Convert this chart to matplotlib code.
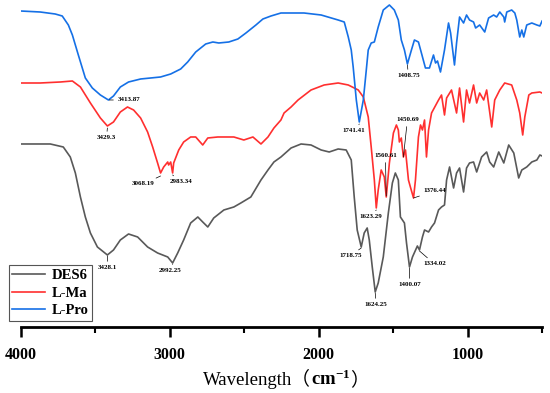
import numpy as np
import matplotlib
matplotlib.use('Agg')
import matplotlib.pyplot as plt
from matplotlib.ticker import MultipleLocator

plt.rcParams['font.family'] = ['Liberation Serif', 'Noto Sans CJK SC']
plt.rcParams['mathtext.fontset'] = 'custom'
plt.rcParams['mathtext.rm'] = 'Liberation Serif'
plt.rcParams['mathtext.bf'] = 'Liberation Serif:bold'

# FTIR spectra (wavenumber, cm-1) and offset transmittance (a.u.)
pro_wn = [4000, 3869, 3768, 3721, 3680, 3653, 3613, 3566, 3519, 3465, 3411, 3377, 3331, 3276,
          3195, 3128, 3061, 2993, 2926, 2879, 2825, 2758, 2710, 2670, 2603, 2542, 2488, 2421,
          2374, 2320, 2253, 2098, 1983, 1869, 1828, 1801, 1781, 1768, 1747, 1727, 1700, 1680,
          1667, 1647, 1626, 1600, 1566, 1525, 1492, 1465, 1445, 1424, 1404, 1377, 1357, 1330,
          1310, 1283, 1256, 1229, 1215, 1202, 1182, 1155, 1128, 1114, 1088, 1074, 1054, 1027,
          1007, 987, 960, 946, 919, 885, 859, 825, 805, 784, 757, 751, 737, 704, 683, 670,
          650, 636, 623, 603, 569, 535, 515, 500]
pro_t = [316, 315, 313, 311, 302, 292, 272, 249, 239, 232, 227, 231, 240, 245,
         248, 249, 250, 253, 258, 265, 275, 283, 285, 284, 285, 288, 294, 302,
         308, 311, 314, 314, 312, 307, 305, 290, 277, 260, 227, 205, 227, 257,
         277, 284, 285, 300, 317, 322, 317, 307, 287, 277, 263, 277, 287, 285,
         274, 259, 259, 272, 264, 266, 255, 277, 304, 294, 262, 284, 310, 304,
         312, 307, 305, 299, 302, 295, 309, 312, 310, 315, 310, 305, 315, 317, 314, 307,
         290, 297, 290, 302, 304, 302, 301, 306]

ma_wn = [4000, 3869, 3734, 3653, 3599, 3532, 3465, 3418, 3377, 3331, 3283, 3242, 3195, 3148,
         3114, 3081, 3061, 3040, 3013, 3007, 2993, 2980, 2973, 2939, 2906, 2859, 2825, 2778,
         2744, 2677, 2569, 2502, 2441, 2387, 2340, 2300, 2253, 2232, 2185, 2138, 2051, 1963,
         1869, 1801, 1734, 1700, 1667, 1647, 1626, 1613, 1600, 1580, 1559, 1546, 1525, 1498,
         1478, 1465, 1458, 1445, 1431, 1417, 1397, 1384, 1363, 1350, 1330, 1316, 1303, 1289,
         1276, 1262, 1242, 1195, 1175, 1155, 1141, 1108, 1074, 1054, 1027, 1007, 987, 960,
         939, 919, 892, 872, 838, 818, 784, 751, 704, 670, 650, 630, 616, 589, 569, 515, 500]
ma_t = [244, 244, 245, 246, 240, 224, 209, 201, 205, 215, 220, 217, 209, 195,
        180, 164, 154, 160, 165, 162, 165, 154, 164, 177, 185, 190, 190, 182,
        189, 190, 190, 187, 190, 183, 190, 199, 207, 214, 220, 227, 237, 242,
        244, 242, 237, 230, 210, 180, 147, 119, 137, 157, 150, 130, 164, 194,
        202, 197, 185, 189, 170, 177, 147, 140, 129, 147, 190, 202, 197, 207,
        170, 197, 214, 227, 232, 212, 229, 237, 214, 239, 205, 237, 224, 242,
        224, 234, 227, 237, 200, 227, 237, 244, 242, 227, 214, 192, 210, 232, 234, 235, 234]

des_wn = [4000, 3801, 3714, 3667, 3633, 3599, 3566, 3532, 3485, 3418, 3377, 3331, 3276, 3215,
          3148, 3081, 3013, 2980, 2946, 2906, 2859, 2811, 2778, 2744, 2704, 2636, 2569, 2522,
          2455, 2387, 2340, 2300, 2253, 2185, 2118, 2051, 1983, 1929, 1869, 1815, 1781, 1761,
          1741, 1714, 1694, 1674, 1660, 1640, 1620, 1600, 1566, 1532, 1505, 1485, 1465, 1451,
          1424, 1410, 1390, 1370, 1337, 1323, 1303, 1289, 1262, 1242, 1222, 1195, 1175, 1155,
          1141, 1121, 1094, 1074, 1054, 1027, 1007, 987, 960, 939, 906, 872, 852, 825, 791,
          757, 724, 690, 657, 636, 603, 569, 535, 515, 500]
des_t = [183, 183, 180, 170, 154, 130, 110, 94, 80, 72, 77, 87, 93, 90,
         80, 74, 70, 64, 74, 87, 104, 110, 105, 100, 109, 117, 120, 124,
         130, 147, 157, 165, 170, 179, 183, 182, 177, 175, 178, 177, 167, 130,
         97, 80, 94, 99, 87, 60, 35, 44, 70, 114, 144, 154, 147, 110,
         104, 84, 60, 70, 81, 77, 90, 97, 95, 100, 104, 117, 120, 122,
         147, 160, 139, 154, 159, 135, 159, 164, 165, 155, 170, 175, 165, 160, 175,
         164, 182, 174, 149, 157, 160, 165, 167, 172, 171]

# peak labels: text, peak (wn, t), label position (wn, t), horizontal alignment
peak_text = ['3413.87', '3429.3', '3068.19', '2983.34', '1741.41', '1408.75', '1450.69',
             '1560.61', '1376.44', '1623.29', '1718.75', '1624.25', '1400.07', '1334.02',
             '3428.1', '2992.25']
peak_xy = [(3405, 227), (3418, 199), (3061, 151), (2980, 152), (1727, 203), (1404, 262),
           (1431, 170), (1546, 131), (1363, 129), (1613, 117), (1714, 79), (1620, 34),
           (1390, 59), (1323, 76), (3418, 71), (2980, 63)]
peak_lab = [(3350, 227), (3424, 189), (3175, 143), (2926, 145), (1761, 196), (1397, 251),
            (1404, 207), (1552, 171), (1296, 136), (1653, 110), (1788, 71), (1613, 22),
            (1390, 42), (1222, 63), (3418, 59), (3000, 56)]
peak_ha = ['left', 'center', 'center', 'center', 'center', 'center', 'center', 'center',
           'left', 'center', 'center', 'center', 'center', 'center', 'center', 'center']

fig = plt.figure(figsize=(5.5, 3.93), dpi=100)
ax = fig.add_axes([0.0376, 0.168, 0.948, 0.832])

l1, = ax.plot(des_wn, des_t, color='#595959', lw=1.2, label='DES6')
l2, = ax.plot(ma_wn, ma_t, color='#ff2f2f', lw=1.2, label='L-Ma')
l3, = ax.plot(pro_wn, pro_t, color='#1570e6', lw=1.2, label='L-Pro')

for txt, xy, xt, ha in zip(peak_text, peak_xy, peak_lab, peak_ha):
    ax.annotate(txt, xy=xy, xytext=xt, ha=ha, va='center', fontsize=5, fontweight='bold',
                arrowprops=dict(arrowstyle='-', lw=0.5, color='k', shrinkA=1, shrinkB=0))

ax.set_xlim(4000, 500)
ax.set_ylim(0, 327)
for s in ['left', 'right', 'top']:
    ax.spines[s].set_visible(False)
ax.spines['bottom'].set_linewidth(2)
ax.set_yticks([])
ax.xaxis.set_major_locator(MultipleLocator(1000))
ax.xaxis.set_minor_locator(MultipleLocator(500))
ax.tick_params(axis='x', which='major', direction='out', length=7, width=1.8, pad=7.5, labelsize=11.5)
ax.tick_params(axis='x', which='minor', direction='out', length=4.5, width=1.5)
for lab in ax.get_xticklabels():
    lab.set_fontweight('bold')

# x label built from pieces so the full-width brackets can fall back to a CJK font
fam = ['Liberation Serif', 'Noto Sans CJK SC']
base_y = 8 / 393
fig.canvas.draw()
r = fig.canvas.get_renderer()
t1 = fig.text(203 / 550, base_y, 'Wavelength（', fontsize=13.5, family=fam, va='baseline')
x_next = t1.get_window_extent(r).x1 / fig.bbox.width
t2 = fig.text(x_next, base_y, r'$\mathbf{cm^{-1}}$', fontsize=13.5, va='baseline')
x_next = t2.get_window_extent(r).x1 / fig.bbox.width
fig.text(x_next, base_y, '）', fontsize=13.5, family=fam, va='baseline')

leg = ax.legend(handles=[l1, l2, l3], labels=['DES6', 'L\u2010Ma', 'L\u2010Pro'],
                loc='lower left', bbox_to_anchor=(0.016, 0.183), bbox_transform=fig.transFigure,
                prop={'weight': 'bold', 'size': 10.5}, fancybox=False, edgecolor='#555555',
                framealpha=1, handlelength=2.2, handletextpad=0.5, borderpad=0.25,
                labelspacing=0.3, borderaxespad=0)
leg.get_frame().set_linewidth(0.8)

fig.savefig('out.png', dpi=100)
